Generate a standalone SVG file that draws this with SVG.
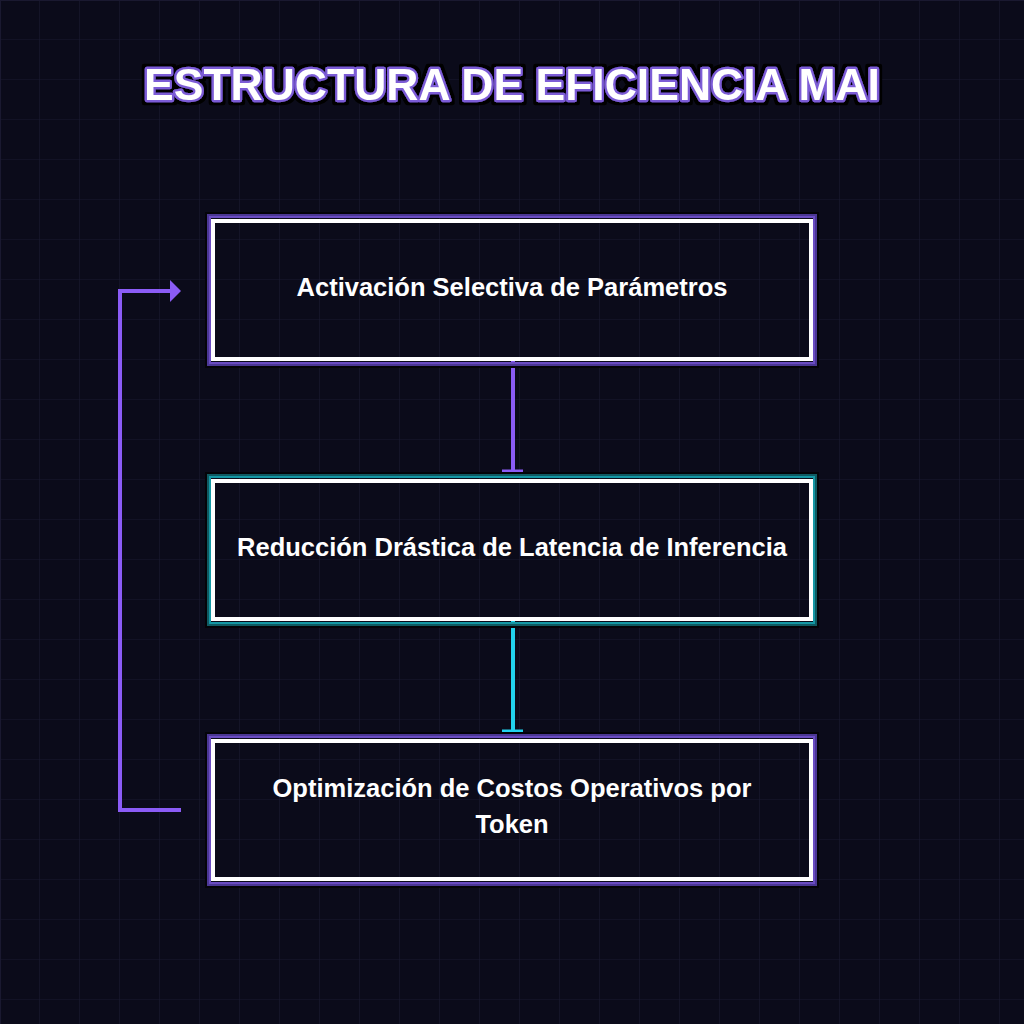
<svg xmlns="http://www.w3.org/2000/svg" width="1024" height="1024" viewBox="0 0 1024 1024">
  <defs>
    <pattern id="grid" x="0" y="0" width="40" height="40" patternUnits="userSpaceOnUse">
      <path d="M40 0 V40 M0 40 H40" fill="none" stroke="#1a1930" stroke-width="1.2"/>
    </pattern>
    <filter id="titleGlow" x="-10%" y="-50%" width="120%" height="200%">
      <feMorphology in="SourceAlpha" operator="dilate" radius="2.5" result="d"/>
      <feFlood flood-color="#000000"/>
      <feComposite in2="d" operator="in" result="outline"/>
      <feMerge>
        <feMergeNode in="outline"/>
        <feMergeNode in="SourceGraphic"/>
      </feMerge>
    </filter>
  </defs>
  <style>
    .bg { fill: #0b0b1a; }
    .title { font-family: "Liberation Sans", Arial, sans-serif; font-weight: bold; font-size: 44.5px; fill: #ffffff; stroke: #7c5cd6; stroke-width: 4.5; paint-order: stroke; stroke-linejoin: round; }
    .label { font-family: "Liberation Sans", Arial, sans-serif; font-weight: bold; font-size: 25.5px; fill: #ffffff; }
    .shadow { fill: none; stroke: #040409; stroke-width: 3; }
    .bandDarkP { fill: none; stroke: #4b3794; stroke-width: 2; }
    .bandMidP { fill: none; stroke: #6a4cc2; stroke-width: 2; }
    .bandDarkT { fill: none; stroke: #0f5a62; stroke-width: 2; }
    .bandMidT { fill: none; stroke: #1497a4; stroke-width: 2; }
    .frame { fill: none; stroke: #ffffff; stroke-width: 4; }
    .connP { fill: none; stroke: #8b5cf6; stroke-width: 4; }
    .connC { fill: none; stroke: #22d3ee; stroke-width: 4; }
  </style>
  <rect class="bg" x="0" y="0" width="1024" height="1024"/>
  <rect x="0" y="0" width="1024" height="1024" fill="url(#grid)"/>
  <path d="M0.5 0 V1024 M0 0.5 H1024" stroke="#1a1930" stroke-width="1.2"/>

  <g id="title">
    <text class="title" x="512" y="99.5" text-anchor="middle" filter="url(#titleGlow)">ESTRUCTURA DE EFICIENCIA MAI</text>
  </g>

  <g id="connectors">
    <path class="connP" d="M513 360 V471"/>
    <rect x="502" y="469.5" width="21" height="2.5" fill="#8b5cf6"/>
    <path class="connC" d="M513 620 V731"/>
    <rect x="502" y="729.5" width="21" height="2.5" fill="#22d3ee"/>
    <path class="connP" d="M181 810 H120 V291 H171" stroke-linejoin="miter"/>
    <polygon points="170,280 181,291 170,302" fill="#8b5cf6"/>
  </g>

  <g id="node-activacion">
    <rect class="shadow" x="206.5" y="213.5" width="611" height="153"/>
    <rect class="bandDarkP" x="208" y="215" width="608" height="150"/>
    <rect class="bandMidP" x="210" y="217" width="604" height="146"/>
    <rect class="frame" x="213" y="221" width="598" height="138"/>
    <text class="label" x="512" y="296" text-anchor="middle">Activación Selectiva de Parámetros</text>
  </g>

  <g id="node-reduccion">
    <rect class="shadow" x="206.5" y="473.5" width="611" height="153"/>
    <rect class="bandDarkT" x="208" y="475" width="608" height="150"/>
    <rect class="bandMidT" x="210" y="477" width="604" height="146"/>
    <rect class="frame" x="213" y="481" width="598" height="138"/>
    <text class="label" x="512" y="556" text-anchor="middle">Reducción Drástica de Latencia de Inferencia</text>
  </g>

  <g id="node-optimizacion">
    <rect class="shadow" x="206.5" y="733.5" width="611" height="153"/>
    <rect class="bandDarkP" x="208" y="735" width="608" height="150"/>
    <rect class="bandMidP" x="210" y="737" width="604" height="146"/>
    <rect class="frame" x="213" y="741" width="598" height="138"/>
    <text class="label" x="512" y="797" text-anchor="middle">Optimización de Costos Operativos por</text>
    <text class="label" x="512" y="833" text-anchor="middle">Token</text>
  </g>
</svg>
